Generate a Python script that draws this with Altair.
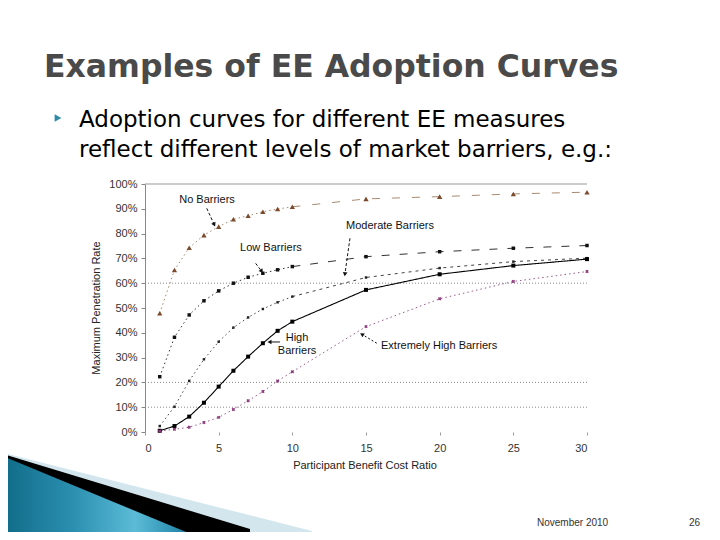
import altair as alt
import pandas as pd

# ---------------- data ----------------
x_vals = [1, 2, 3, 4, 5, 6, 7, 8, 9, 10, 15, 20, 25, 30]
no_barriers = [47.9, 65.3, 74.3, 79.4, 82.8, 85.8, 87.2, 88.8, 89.9, 90.8, 94.0, 94.9, 96.0, 96.7]
low_barriers = [22.3, 38.2, 47.2, 52.9, 56.9, 60.0, 62.4, 64.0, 65.4, 66.7, 70.7, 72.7, 74.1, 75.2]
moderate_barriers = [2.4, 10.2, 20.6, 29.3, 36.4, 42.1, 46.2, 49.6, 52.3, 54.6, 62.3, 66.1, 68.7, 70.1]
high_barriers = [0.5, 2.4, 6.2, 11.8, 18.3, 24.7, 30.4, 35.8, 40.8, 44.5, 57.3, 63.6, 67.1, 69.7]
extreme_barriers = [0.4, 1.1, 1.9, 3.8, 5.9, 9.1, 12.6, 16.3, 20.6, 24.3, 42.5, 53.7, 60.7, 64.7]

x_ticks = [0, 5, 10, 15, 20, 25, 30]
y_ticks = [0, 10, 20, 30, 40, 50, 60, 70, 80, 90, 100]
grid_levels = [10, 20, 60]

series_names = ["No Barriers", "Low Barriers", "Moderate Barriers", "High Barriers", "Extremely High Barriers"]
series_values = [no_barriers, low_barriers, moderate_barriers, high_barriers, extreme_barriers]

rows = []
for name, vals in zip(series_names, series_values):
    for xv, yv in zip(x_vals, vals):
        rows.append({"series": name, "ratio": xv, "rate": yv})
df = pd.DataFrame(rows)

# ---------------- layout ----------------
W, H = 442, 248
OX, OY = 145, 184          # page position of plot origin
PAD_L, PAD_T = OX - 8, OY - 8
PAD_R = 704 - PAD_L - W
PAD_B = 524 - PAD_T - H

FONT = "Liberation Sans"

xscale = alt.Scale(domain=[0, 30], nice=False, zero=False)
yscale = alt.Scale(domain=[0, 100], nice=False)

x_axis = alt.Axis(values=x_ticks, grid=False, domain=False, ticks=True, tickSize=3,
                  tickColor="#999999", labelFont=FONT, labelFontSize=11,
                  labelColor="#333333", labelPadding=7, labelOverlap=False, title=None)
y_axis = alt.Axis(values=y_ticks, grid=False, domain=True, domainColor="#888888",
                  ticks=True, tickSize=4, tickColor="#888888",
                  labelExpr="datum.value + '%'", labelFont=FONT, labelFontSize=11,
                  labelColor="#333333", labelPadding=4, labelOverlap=False, title=None)
X = alt.X("ratio:Q", scale=xscale, axis=x_axis, title=None)
Y = alt.Y("rate:Q", scale=yscale, axis=y_axis, title=None)

layers = []

# gridlines (dotted) + top border
layers.append(alt.Chart(pd.DataFrame({"rate": grid_levels})).mark_rule(
    color="#8a8a8a", strokeDash=[1, 2], strokeWidth=1).encode(
    y=Y, x=alt.value(0), x2=alt.value(W)))
layers.append(alt.Chart(pd.DataFrame({"rate": [100]})).mark_rule(
    color="#999999", strokeWidth=1).encode(y=Y, x=alt.value(0), x2=alt.value(W)))

# line styles: (color, left dash, right dash, width)
line_styles = {
    "No Barriers": ("#a88a70", [1.5, 3], [8, 12], 1),
    "Low Barriers": ("#333333", [1.5, 3], [8, 10], 1),
    "Moderate Barriers": ("#444444", [1.5, 3], [3, 4], 1),
    "High Barriers": ("#000000", [1, 0], [1, 0], 1.1),
    "Extremely High Barriers": ("#9a5a8c", [1.5, 3], [1.5, 3], 1),
}
for name in series_names:
    col, dl, dr, sw = line_styles[name]
    left = df[(df.series == name) & (df.ratio <= 10)]
    right = df[(df.series == name) & (df.ratio >= 10)]
    layers.append(alt.Chart(left).mark_line(color=col, strokeDash=dl, strokeWidth=sw).encode(x=X, y=Y))
    layers.append(alt.Chart(right).mark_line(color=col, strokeDash=dr, strokeWidth=sw).encode(x=X, y=Y))

marker_styles = {
    "No Barriers": dict(shape="triangle-up", color="#7b4a2d", size=28),
    "Low Barriers": dict(shape="square", color="#111111", size=12),
    "Moderate Barriers": dict(shape="square", color="#222222", size=6),
    "High Barriers": dict(shape="square", color="#000000", size=16),
    "Extremely High Barriers": dict(shape="cross", angle=45, color="#8b3a7a", size=12),
}
for name in series_names:
    layers.append(alt.Chart(df[df.series == name]).mark_point(
        filled=True, opacity=1, **marker_styles[name]).encode(x=X, y=Y))

# ---------------- annotations (in data units) ----------------
notes = pd.DataFrame({
    "label": ["No Barriers", "Low Barriers", "Moderate Barriers", "High", "Barriers"],
    "ratio": [4.21, 8.55, 16.63, 10.32, 10.32],
    "rate": [93.5, 74.2, 83.1, 37.9, 32.6],
})
layers.append(alt.Chart(notes).mark_text(font=FONT, fontSize=11, color="#111111",
                                         align="center", baseline="middle").encode(
    x=X, y=Y, text="label:N"))
layers.append(alt.Chart(pd.DataFrame({"label": ["Extremely High Barriers"], "ratio": [16.02],
                                      "rate": [34.7]})).mark_text(
    font=FONT, fontSize=11, color="#111111", align="left", baseline="middle").encode(
    x=X, y=Y, text="label:N"))

arrows = [
    (4.19, 90.2, 4.70, 83.6, 155, [3, 2]),
    (7.51, 68.0, 7.92, 64.8, 145, [3, 2]),
    (13.91, 78.1, 13.57, 63.6, 188, [3, 2]),
    (9.16, 36.3, 8.45, 36.3, 270, [1, 0]),
    (15.73, 35.8, 14.72, 39.4, 302, [2, 2]),
]
for x1, y1, x2, y2, ang, dash in arrows:
    seg = pd.DataFrame({"ratio": [x1], "rate": [y1], "ratio2": [x2], "rate2": [y2]})
    layers.append(alt.Chart(seg).mark_rule(color="#111111", strokeWidth=1, strokeDash=dash).encode(
        x=X, y=Y, x2="ratio2:Q", y2="rate2:Q"))
    head = pd.DataFrame({"ratio": [x2], "rate": [y2]})
    layers.append(alt.Chart(head).mark_point(shape="triangle-up", angle=ang, filled=True, size=22,
                                             color="#111111", opacity=1).encode(x=X, y=Y))

# ---------------- slide decoration ----------------
def px_x(px):
    return (px - OX) * 30.0 / W


def px_y(py):
    return (OY + H - py) * 100.0 / H


def band(points_top, bottom_py, color):
    d = pd.DataFrame({"ratio": [px_x(p[0]) for p in points_top],
                      "rate": [px_y(p[1]) for p in points_top],
                      "rate2": [px_y(bottom_py)] * len(points_top)})
    return alt.Chart(d).mark_area(color=color, opacity=1).encode(x=X, y=Y, y2="rate2:Q")


teal_grad = alt.Gradient(gradient="linear", x1=0, y1=0, x2=1, y2=0,
                         stops=[alt.GradientStop(color="#0f6a86", offset=0),
                                alt.GradientStop(color="#2b8fb0", offset=0.35),
                                alt.GradientStop(color="#5cbcd7", offset=0.65),
                                alt.GradientStop(color="#2a8db0", offset=0.85),
                                alt.GradientStop(color="#156f8e", offset=1)])
deco = [
    band([(0, 452), (312, 531)], 545, "#d3e6ee"),
    band([(0, 453), (250, 529)], 545, "#000000"),
    band([(0, 455), (208, 541)], 545, teal_grad),
]

one = pd.DataFrame({"a": [0]})


def slide_text(text, x, y, size, color="#000000", weight="normal", font="DejaVu Sans",
               align="left", angle=0, baseline="alphabetic"):
    return alt.Chart(one).mark_text(text=text, font=font, fontSize=size, color=color,
                                    fontWeight=weight, align=align, angle=angle,
                                    baseline=baseline).encode(
        x=alt.value(x - OX), y=alt.value(y - OY))


texts = [
    slide_text("Examples of EE Adoption Curves", 44, 77, 31.5, color="#4a4a4a", weight="bold"),
    slide_text("Adoption curves for different EE measures", 79, 127, 23),
    slide_text("reflect different levels of market barriers, e.g.:", 79, 157, 23),
    slide_text("Participant Benefit Cost Ratio", 365, 466, 11, color="#222222", font=FONT,
               align="center", baseline="middle"),
    slide_text("Maximum Penetration Rate", 97, 308, 11, color="#222222", font=FONT,
               align="center", baseline="middle", angle=270),
    slide_text("November 2010", 537, 526, 10, color="#333333", font=FONT),
    slide_text("26", 689, 526, 10, color="#333333", font=FONT),
]
bullet = alt.Chart(one).mark_point(shape="triangle-right", filled=True, size=60,
                                   color="#2e8aa6", opacity=1).encode(
    x=alt.value(58 - OX), y=alt.value(118 - OY))

chart = alt.layer(*deco, *layers, *texts, bullet).properties(
    width=W, height=H,
    autosize=alt.AutoSizeParams(type="none"),
    padding={"left": PAD_L, "top": PAD_T, "right": PAD_R, "bottom": PAD_B},
    background="white",
).configure_view(stroke=None)

chart.save("out.html", embed_options={"renderer": "svg", "actions": False})
